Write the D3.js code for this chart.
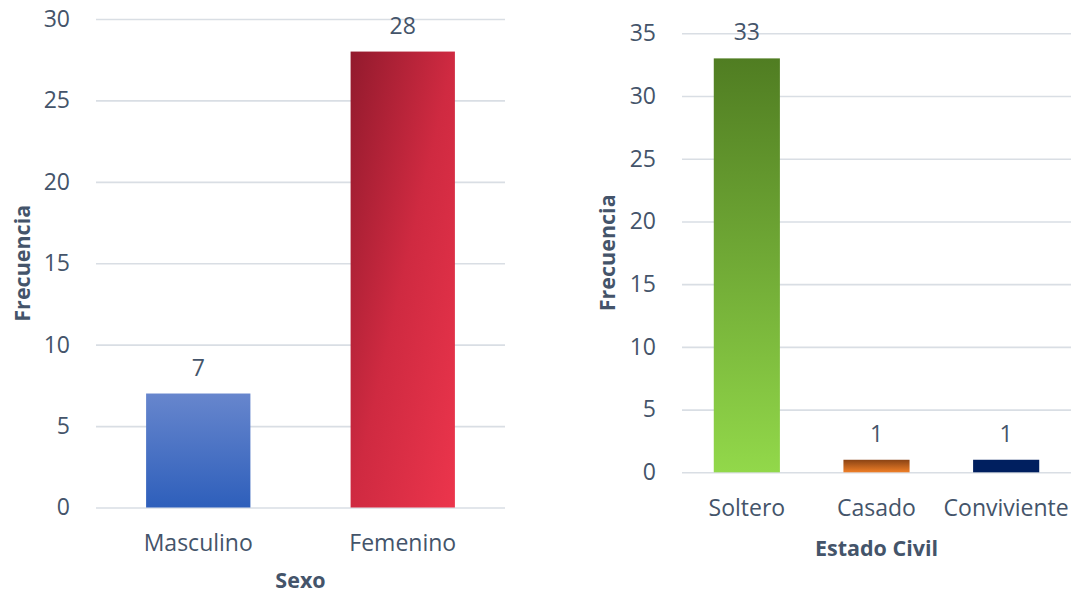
<!DOCTYPE html>
<html>
<head>
<meta charset="utf-8">
<script src="https://cdn.jsdelivr.net/npm/d3@7/dist/d3.min.js"></script>
<style>
  html, body { margin: 0; padding: 0; background: #fff; }
  svg { display: block; }
  text { font-family: "Open Sans", "Noto Sans", sans-serif; fill: #44546A; }
</style>
</head>
<body>
<svg id="chart" width="1079" height="594"></svg>
<script>
// Sexo
const sexoCategories = ["Masculino", "Femenino"];
const sexoValues = [7, 28];
const sexoTicks = [0, 5, 10, 15, 20, 25, 30];

// Estado civil
const civilCategories = ["Soltero", "Casado", "Conviviente"];
const civilValues = [33, 1, 1];
const civilTicks = [0, 5, 10, 15, 20, 25, 30, 35];

const svg = d3.select("#chart");
const defs = svg.append("defs");

function linearGradient(id, x1, y1, x2, y2, stops) {
  const g = defs.append("linearGradient")
    .attr("id", id)
    .attr("x1", x1).attr("y1", y1).attr("x2", x2).attr("y2", y2);
  stops.forEach(([o, c]) => g.append("stop").attr("offset", o).attr("stop-color", c));
  return `url(#${id})`;
}

const fillMasculino = linearGradient("gMasc", 0, 0, 0, 1, [[0, "#6786CD"], [1, "#2E5FBB"]]);
const fillFemenino = linearGradient("gFem", 0, 0, 1, 1, [[0, "#921A2D"], [0.5, "#CF2A41"], [1, "#EC354C"]]);
const fillSoltero = linearGradient("gSol", 0, 0, 0, 1, [[0, "#507D22"], [1, "#92D84A"]]);
const fillCasado = linearGradient("gCas", 0, 0, 0, 1, [[0, "#8A4314"], [1, "#F07F27"]]);
const fillConviviente = "#001F5F";

function barChart(cfg) {
  const g = svg.append("g");
  const x = d3.scaleBand()
    .domain(cfg.categories)
    .range([cfg.left, cfg.right])
    .paddingInner(0.49)
    .paddingOuter(0.245);
  const y = d3.scaleLinear()
    .domain([0, cfg.max])
    .range([cfg.bottom, cfg.top]);

  // Grid and tick labels
  const axis = d3.axisLeft(y)
    .tickValues(cfg.ticks)
    .tickSize(-(cfg.right - cfg.left))
    .tickPadding(26)
    .tickFormat(d3.format("d"));
  const ag = g.append("g")
    .attr("transform", `translate(${cfg.left},0)`)
    .call(axis);
  ag.select(".domain").remove();
  ag.selectAll(".tick line").attr("stroke", "#D9DEE4").attr("stroke-width", 1.6);
  ag.selectAll(".tick text")
    .attr("font-size", 23)
    .attr("font-family", "'Open Sans', sans-serif")
    .attr("fill", "#44546A");

  const data = cfg.categories.map((c, i) => ({ c, v: cfg.values[i], fill: cfg.fills[i] }));

  g.selectAll("rect.bar")
    .data(data)
    .join("rect")
    .attr("class", "bar")
    .attr("x", d => x(d.c))
    .attr("width", x.bandwidth())
    .attr("y", d => y(d.v))
    .attr("height", d => y(0) - y(d.v))
    .attr("fill", d => d.fill);

  // Value labels
  g.selectAll("text.val")
    .data(data)
    .join("text")
    .attr("class", "val")
    .attr("x", d => x(d.c) + x.bandwidth() / 2)
    .attr("y", d => y(d.v) - 18)
    .attr("text-anchor", "middle")
    .attr("font-size", 23)
    .text(d => d.v);

  // Category labels
  g.selectAll("text.cat")
    .data(data)
    .join("text")
    .attr("class", "cat")
    .attr("x", d => x(d.c) + x.bandwidth() / 2)
    .attr("y", y(0) + 43.5)
    .attr("text-anchor", "middle")
    .attr("font-size", 23)
    .text(d => d.c);

  // Axis titles
  g.append("text")
    .attr("x", (cfg.left + cfg.right) / 2)
    .attr("y", Math.min(y(0) + 84, 588))
    .attr("text-anchor", "middle")
    .attr("font-size", 21.5)
    .attr("font-weight", "bold")
    .text(cfg.xTitle);

  g.append("text")
    .attr("transform", `translate(${cfg.yTitleX},${(cfg.top + cfg.bottom) / 2}) rotate(-90)`)
    .attr("text-anchor", "middle")
    .attr("font-size", 21.5)
    .attr("font-weight", "bold")
    .text("Frecuencia");
}

barChart({
  categories: sexoCategories,
  values: sexoValues,
  ticks: sexoTicks,
  fills: [fillMasculino, fillFemenino],
  max: 30,
  left: 96, right: 505, top: 19, bottom: 507.5,
  xTitle: "Sexo",
  yTitleX: 30
});

barChart({
  categories: civilCategories,
  values: civilValues,
  ticks: civilTicks,
  fills: [fillSoltero, fillCasado, fillConviviente],
  max: 35,
  left: 682, right: 1071, top: 33.3, bottom: 472.3,
  xTitle: "Estado Civil",
  yTitleX: 615
});
</script>
</body>
</html>
